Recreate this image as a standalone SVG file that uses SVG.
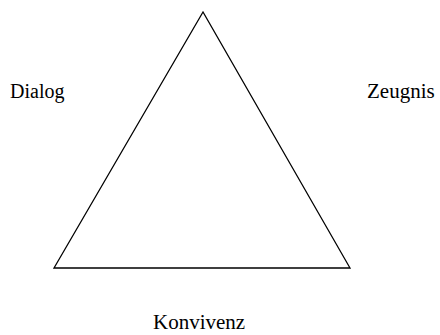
<svg xmlns="http://www.w3.org/2000/svg" width="440" height="335" viewBox="0 0 440 335">
<style>
.lbl { font-family: 'Liberation Serif', 'DejaVu Serif', serif; font-size: 20px; fill: #000; }
.edge { stroke: #000; stroke-width: 1.3; fill: none; }
</style>
<rect width="440" height="335" fill="#fff"/>
<g id="connectors">
<polygon class="edge" points="203,12 54,268 350,268"/>
</g>
<g id="node-dialog"><text class="lbl" x="10" y="98">Dialog</text></g>
<g id="node-zeugnis"><text class="lbl" x="367" y="98" style="font-size:21px">Zeugnis</text></g>
<g id="node-konvivenz"><text class="lbl" x="153" y="329" style="font-size:21px">Konvivenz</text></g>
</svg>
